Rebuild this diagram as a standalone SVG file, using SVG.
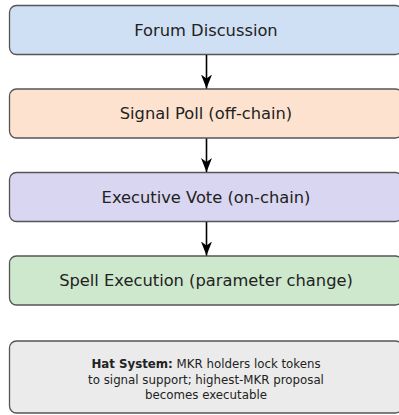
<svg xmlns="http://www.w3.org/2000/svg" width="399" height="415" viewBox="0 0 399 415">
<defs>
<marker id="ah" markerWidth="14" markerHeight="12" refX="14" refY="5.5" orient="auto" markerUnits="userSpaceOnUse">
<path d="M0,0 L14,5.5 L0,11 L4,5.5 Z" fill="#000"/>
</marker>
</defs>
<style>
.box{stroke:#555;stroke-width:1.3}
.lbl{font-family:"DejaVu Sans","Liberation Sans",sans-serif;font-size:16.3px;fill:#222;text-anchor:middle;dominant-baseline:central}
.note{font-family:"DejaVu Sans","Liberation Sans",sans-serif;font-size:11.8px;fill:#222;text-anchor:middle}
.conn{stroke:#000;stroke-width:1.6;fill:none}
</style>
<rect width="399" height="415" fill="#fff"/>
<g id="forum">
<rect class="box" x="9.5" y="5.5" width="393" height="49" rx="7" fill="#cfe0f4"/>
<text class="lbl" x="206" y="30">Forum Discussion</text>
</g>
<g id="signal">
<rect class="box" x="9.5" y="89" width="393" height="49" rx="7" fill="#fde3cf"/>
<text class="lbl" x="206" y="113.5">Signal Poll (off-chain)</text>
</g>
<g id="exec">
<rect class="box" x="9.5" y="172.5" width="393" height="49" rx="7" fill="#d8d6f0"/>
<text class="lbl" x="206" y="197">Executive Vote (on-chain)</text>
</g>
<g id="spell">
<rect class="box" x="9.5" y="256" width="393" height="49" rx="7" fill="#cde8cc"/>
<text class="lbl" x="206" y="280.5">Spell Execution (parameter change)</text>
</g>
<g id="hat">
<rect class="box" x="9.5" y="341" width="393" height="72" rx="7" fill="#ebebeb"/>
<text class="note" x="206" y="368"><tspan font-weight="bold">Hat System:</tspan> MKR holders lock tokens</text>
<text class="note" x="206" y="383.5">to signal support; highest-MKR proposal</text>
<text class="note" x="206" y="399">becomes executable</text>
</g>
<g id="connectors">
<line class="conn" x1="206.5" y1="55" x2="206.5" y2="88.5" marker-end="url(#ah)"/>
<line class="conn" x1="206.5" y1="138.5" x2="206.5" y2="172" marker-end="url(#ah)"/>
<line class="conn" x1="206.5" y1="222" x2="206.5" y2="255.5" marker-end="url(#ah)"/>
</g>
</svg>
